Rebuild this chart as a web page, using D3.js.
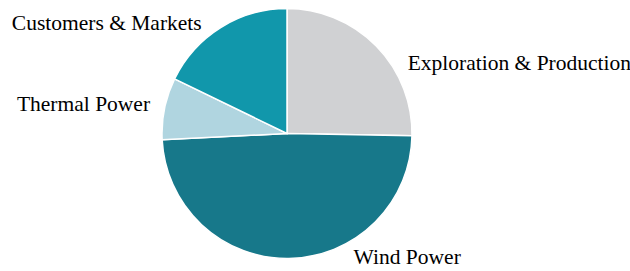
<!DOCTYPE html>
<html>
<head>
<meta charset="utf-8">
<script src="https://cdn.jsdelivr.net/npm/d3@7"></script>
<style>
  html, body { margin: 0; padding: 0; background: #fff; }
  .slice-label { font-family: "Liberation Serif", "Times New Roman", serif; font-size: 21.5px; fill: #000; }
</style>
</head>
<body>
<div id="chart"></div>
<script>
// segment shares (percent)
const segments = ['Exploration & Production', 'Wind Power', 'Thermal Power', 'Customers & Markets'];
const shares = [25.3, 48.9, 8.0, 17.8];
const colors = ['#d0d1d3', '#17788a', '#b0d5e0', '#1197ab'];

const width = 630;
const height = 271;
const cx = 287;
const cy = 133.5;
const radius = 125;

// labels sit on a circle just outside the pie; a few are slid along it to stay clear
const labelRadius = 140;
const labelShift = { 'Exploration & Production': 14, 'Wind Power': -27.5, 'Thermal Power': 0.5, 'Customers & Markets': -5.5 };

const rows = segments.map((name, i) => ({ name, value: shares[i], color: colors[i] }));

const pie = d3.pie().sort(null).value((d) => d.value);
const arc = d3.arc().innerRadius(0).outerRadius(radius);

const svg = d3.select('#chart').append('svg')
  .attr('width', width)
  .attr('height', height);

const g = svg.append('g').attr('transform', 'translate(' + cx + ',' + cy + ')');

const arcs = pie(rows);

g.selectAll('.slice')
  .data(arcs)
  .enter()
  .append('path')
  .attr('class', 'slice')
  .attr('d', arc)
  .attr('fill', (d) => d.data.color)
  .attr('stroke', '#fff')
  .attr('stroke-width', 1.5);

g.selectAll('.slice-label')
  .data(arcs)
  .enter()
  .append('text')
  .attr('class', 'slice-label')
  .each(function (d) {
    const mid = (d.startAngle + d.endAngle) / 2 + (labelShift[d.data.name] || 0) * Math.PI / 180;
    const x = Math.sin(mid) * labelRadius;
    const y = -Math.cos(mid) * labelRadius;
    d3.select(this)
      .attr('x', x)
      .attr('y', y)
      .attr('dy', '0.33em')
      .attr('text-anchor', x >= 0 ? 'start' : 'end')
      .text(d.data.name);
  });
</script>
</body>
</html>
